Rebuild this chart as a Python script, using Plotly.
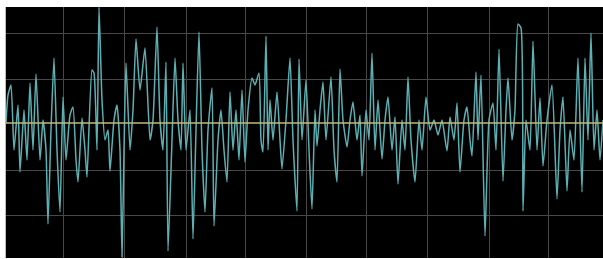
import plotly.graph_objects as go

# Sample times (horizontal index) and signal amplitudes
t = [6, 8, 11, 14, 18, 20, 24, 27, 30, 33, 36, 40, 43, 46, 48, 51, 54, 57, 60, 63,
     66, 70, 73, 76, 78, 82, 85, 87, 92, 94, 97, 99, 102, 105, 108, 110, 114, 117, 120, 122,
     124, 126, 130, 133, 136, 140, 145, 150, 153, 157, 160, 163, 166, 168, 172, 175, 178, 181, 183, 186,
     190, 193, 196, 199, 202, 205, 208, 212, 214, 218, 221, 224, 227, 230, 233, 236, 239, 242, 245, 248,
     252, 255, 259, 261, 263, 266, 268, 270, 273, 277, 280, 282, 286, 290, 293, 297, 299, 302, 306, 309,
     312, 315, 317, 320, 323, 326, 331, 334, 337, 340, 343, 347, 350, 353, 357, 360, 362, 366, 369, 372,
     375, 378, 382, 385, 388, 392, 395, 398, 402, 405, 408, 411, 415, 419, 422, 426, 430, 434, 438, 442,
     447, 450, 454, 457, 460, 464, 467, 470, 472, 476, 478, 481, 485, 489, 493, 496, 499, 503, 506, 508,
     512, 515, 518, 521, 523, 526, 530, 533, 537, 540, 543, 547, 552, 557, 560, 563, 567, 570, 574, 578,
     582, 585, 588, 591, 594, 597, 600, 603]

signal = [0, 28, 38, -27, 18, -49, 13, -37, 40, -27, 49, -37, 3, -27, -101, -7, 65, -27, -89, 26,
          -37, 8, 16, -37, -59, 5, -27, -54, 53, 50, -27, 116, 23, -17, -7, -48, 3, 18, -27, -134,
          -27, 60, -27, 13, 84, 33, 75, -17, 3, 96, 3, -27, 61, -128, -17, 65, 3, -27, 60, -27,
          13, -116, -7, 91, -27, -89, -7, 35, -103, -17, 13, -27, -59, 31, -27, 13, -37, 33, -39, 13,
          45, 38, 50, -17, -29, 87, -27, 23, -17, 31, -17, -46, 3, 65, -17, -88, 64, -17, 43, -27,
          -86, 13, -23, 13, 41, -17, 46, -27, -59, 54, 3, -24, 3, 21, -17, 8, -53, 13, -17, 70,
          -27, 23, -36, 3, 26, -27, 6, -61, 3, -27, 46, -17, -59, 3, -27, 26, -7, 3, -12, 3,
          -28, 6, -17, 20, -49, 3, 16, -17, -33, 51, -17, 48, -113, 3, 20, -27, 74, -58, 13, 45,
          -17, 13, 99, 95, -88, 3, -27, 82, -27, 25, -43, 3, 38, -76, -7, 26, -68, -7, -37, 65,
          -69, 65, -17, 90, -27, 13, -37, 3]

baseline = 0
x_grid = [63, 124, 186, 245, 306, 366, 427, 489, 548]
y_grid = [90, 44, -47, -92]

fig = go.Figure()
fig.add_trace(go.Scatter(
    x=t, y=signal, mode="lines",
    line=dict(color="#5cb0b4", width=1.5, shape="spline", smoothing=0.5),
    hoverinfo="skip", showlegend=False,
))
fig.add_hline(y=baseline, line=dict(color="#c2b87a", width=1.3))

fig.update_layout(
    width=603, height=259, autosize=False,
    margin=dict(l=6, r=0, t=7, b=1),
    paper_bgcolor="#ffffff",
    plot_bgcolor="#000000",
    showlegend=False,
    xaxis=dict(range=[6, 603], tickvals=x_grid, showticklabels=False,
               showgrid=True, gridcolor="#4a4846", gridwidth=1.3,
               zeroline=False, showline=False, fixedrange=True),
    yaxis=dict(range=[-135, 116], tickvals=y_grid, showticklabels=False,
               showgrid=True, gridcolor="#4a4846", gridwidth=1.3,
               zeroline=False, showline=True, linecolor="#e8a8a8", linewidth=1,
               fixedrange=True),
)

fig.write_html("out.html", config={"displayModeBar": False},
               post_script="document.body.style.margin='0';document.body.style.overflow='hidden';")
